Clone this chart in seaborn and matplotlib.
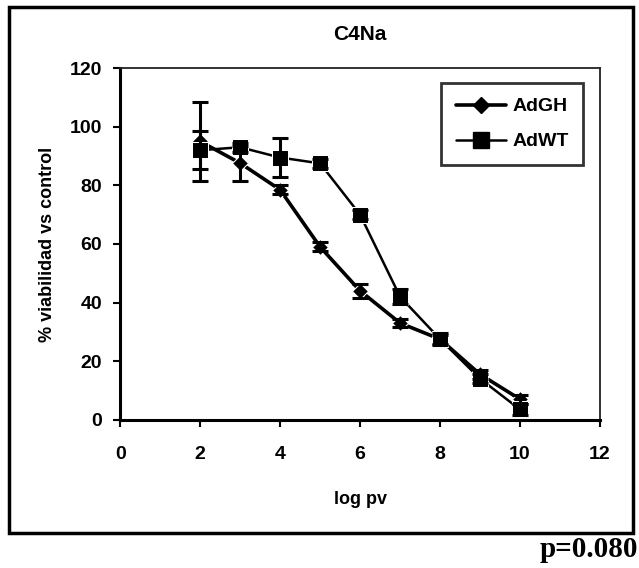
import pandas as pd
import matplotlib.pyplot as plt
import seaborn as sns
from matplotlib.patches import Rectangle
from matplotlib.lines import Line2D

# values
log_pv = [2, 3, 4, 5, 6, 7, 8, 9, 10]
adgh = [95, 87.6, 78.5, 59, 44, 33, 27.5, 15.5, 7]
adgh_err = [13.6, 6, 1.5, 1.5, 2.3, 1.5, 1.5, 1.5, 1.5]
adwt = [92, 93, 89.5, 87.5, 70, 42, 27.5, 14, 3.5]
adwt_err = [6.5, 1.5, 6.5, 1.5, 1.5, 2.5, 2, 1.5, 2]
x_ticks = [0, 2, 4, 6, 8, 10, 12]
y_ticks = [0, 20, 40, 60, 80, 100, 120]

df = pd.concat([
    pd.DataFrame({'log pv': log_pv, 'viab': adgh, 'err': adgh_err, 'grupo': 'AdGH'}),
    pd.DataFrame({'log pv': log_pv, 'viab': adwt, 'err': adwt_err, 'grupo': 'AdWT'}),
])

sns.set_style('white')
plt.rcParams['font.family'] = ['Liberation Sans', 'DejaVu Sans']
plt.rcParams['text.color'] = 'black'
plt.rcParams['axes.labelcolor'] = 'black'
plt.rcParams['xtick.color'] = 'black'
plt.rcParams['ytick.color'] = 'black'

fig = plt.figure(figsize=(6.39, 5.68), dpi=100)
ax = fig.add_axes([0.188, 0.261, 0.751, 0.619])

sns.lineplot(data=df, x='log pv', y='viab', hue='grupo', style='grupo',
             markers={'AdGH': 'D', 'AdWT': 's'}, dashes=False,
             palette={'AdGH': 'black', 'AdWT': 'black'},
             size='grupo', sizes={'AdGH': 2.6, 'AdWT': 1.8},
             markersize=9, ax=ax, legend=False)
# diamonds a bit smaller than squares
ax.lines[0].set_markersize(8)
ax.lines[1].set_markersize(11)

for name, g in df.groupby('grupo'):
    ax.errorbar(g['log pv'], g['viab'], yerr=g['err'], fmt='none',
                ecolor='black', elinewidth=2.2, capsize=6, capthick=2.2)

ax.set_xlim(0, 12)
ax.set_ylim(0, 120)
ax.set_xticks(x_ticks)
ax.set_yticks(y_ticks)
ax.tick_params(axis='both', direction='out', length=5, width=1.5,
               labelsize=14, left=True, bottom=True)
ax.tick_params(axis='x', pad=14)
ax.tick_params(axis='y', pad=8)
for lab in ax.get_xticklabels() + ax.get_yticklabels():
    lab.set_fontweight('bold')
ax.set_xlabel('log pv', fontsize=13, fontweight='bold', labelpad=20)
ax.set_ylabel('% viabilidad vs control', fontsize=13, fontweight='bold', labelpad=10)
ax.set_title('C4Na', fontsize=15, fontweight='bold', pad=20)
for side in ['left', 'bottom']:
    ax.spines[side].set_linewidth(2.2)
    ax.spines[side].set_color('black')
for side in ['top', 'right']:
    ax.spines[side].set_linewidth(1.3)
    ax.spines[side].set_color('#222222')

# legend built to match the plotted lines
handles = [
    Line2D([], [], color='black', lw=2.6, marker='D', markersize=8),
    Line2D([], [], color='black', lw=1.8, marker='s', markersize=11),
]
leg = ax.legend(handles, ['AdGH', 'AdWT'], loc='upper right',
                bbox_to_anchor=(0.985, 0.985), frameon=True, fancybox=False,
                edgecolor='black', prop={'size': 14, 'weight': 'bold'},
                handlelength=2.6, borderpad=0.75, labelspacing=0.9,
                handletextpad=0.3)
leg.get_frame().set_linewidth(2)

# outer frame of the scanned figure
fig.patches.append(Rectangle((0.014, 0.062), 0.976, 0.925, transform=fig.transFigure,
                             fill=False, edgecolor='black', linewidth=2.5))
fig.text(0.998, 0.033, 'p=0.080', ha='right', va='center', fontsize=21,
         fontweight='bold', family=['Liberation Serif', 'DejaVu Serif'])

fig.savefig('out.png', dpi=100)
